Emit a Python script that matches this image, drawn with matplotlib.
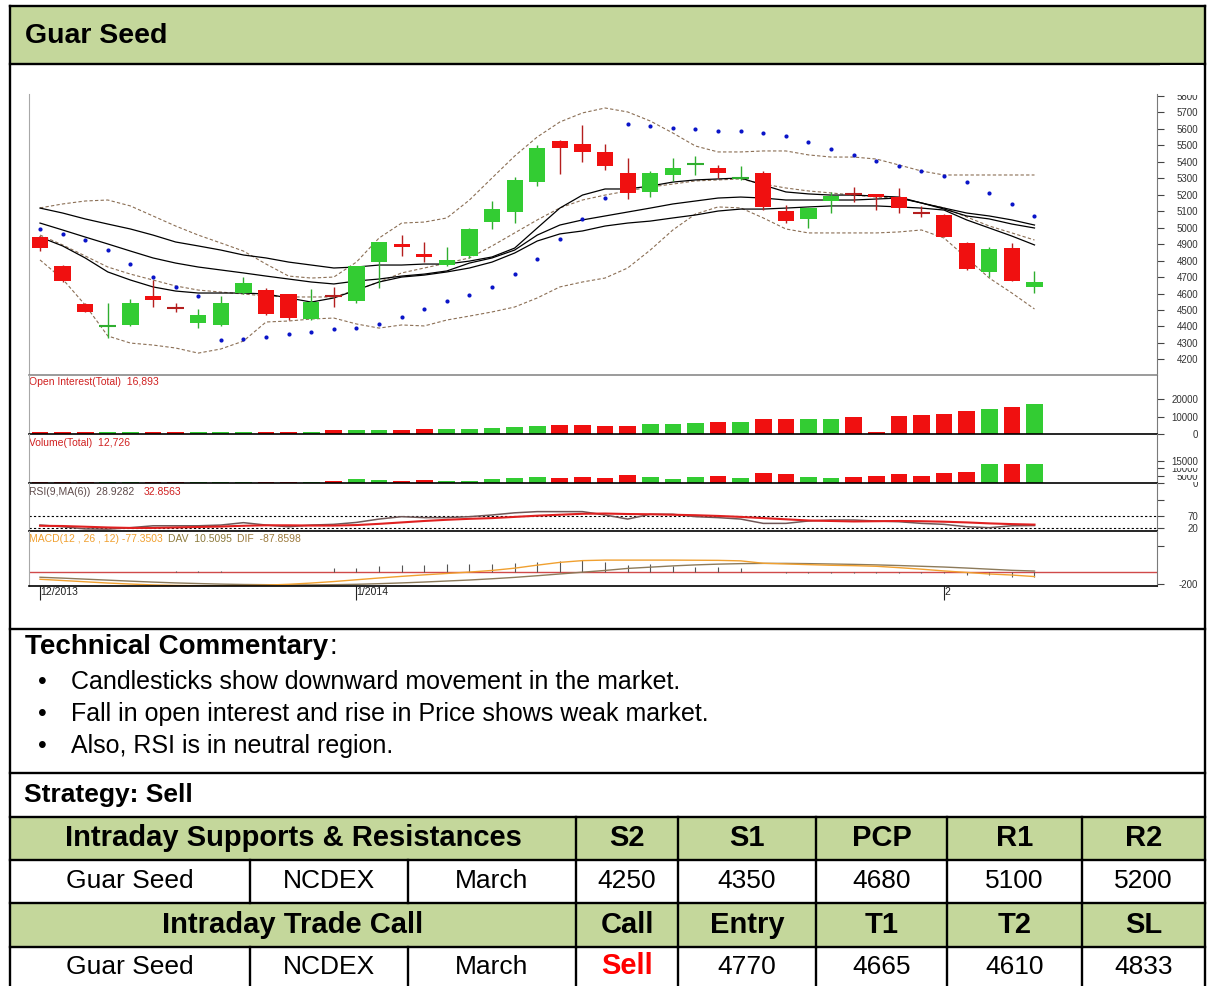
import matplotlib
matplotlib.use('Agg')
import matplotlib.pyplot as plt
from matplotlib.patches import Rectangle

plt.rcParams['font.family'] = ['Liberation Sans', 'DejaVu Sans']

W, H = 1208, 986

# ---------------- chart data (one value per trading day) ----------------
opens = [4943, 4769, 4534, 4397, 4409, 4585, 4516, 4422, 4409, 4605, 4621, 4597, 4443, 4587, 4556,
         4793, 4901, 4840, 4773, 4828, 5032, 5097, 5276, 5527, 5508, 5462, 5330, 5219, 5320, 5383,
         5361, 5302, 5334, 5101, 5053, 5162, 5207, 5205, 5184, 5093, 5077, 4905, 4731, 4876, 4638]
highs = [4950, 4775, 4540, 4542, 4567, 4682, 4544, 4506, 4585, 4702, 4632, 4600, 4626, 4642, 4770,
         4915, 4955, 4911, 4884, 4995, 5164, 5310, 5502, 5530, 5624, 5508, 5421, 5346, 5421, 5435,
         5381, 5375, 5346, 5138, 5127, 5217, 5249, 5205, 5239, 5132, 5080, 4911, 4884, 4909, 4737]
lows = [4858, 4672, 4485, 4330, 4405, 4518, 4486, 4390, 4405, 4600, 4470, 4439, 4440, 4520, 4544,
        4632, 4828, 4793, 4770, 4814, 4992, 5027, 5255, 5324, 5401, 5350, 5174, 5188, 5285, 5320,
        5304, 5290, 5107, 5027, 4996, 5091, 5158, 5107, 5087, 5067, 4941, 4745, 4702, 4675, 4601]
closes = [4876, 4678, 4489, 4409, 4542, 4561, 4512, 4469, 4542, 4666, 4475, 4449, 4550, 4583, 4767,
          4911, 4884, 4824, 4804, 4992, 5113, 5290, 5486, 5482, 5458, 5377, 5209, 5330, 5365, 5387,
          5330, 5306, 5127, 5040, 5120, 5192, 5203, 5188, 5121, 5089, 4945, 4749, 4870, 4678, 4670]

sar = [4992, 4962, 4925, 4864, 4779, 4700, 4640, 4585, 4317, 4324, 4336, 4354, 4366, 4384, 4390,
       4415, 4457, 4506, 4554, 4591, 4640, 4718, 4810, 4931, 5053, 5180, 5630, 5618, 5606, 5600,
       5587, 5587, 5575, 5557, 5520, 5478, 5442, 5405, 5375, 5344, 5314, 5277, 5211, 5144, 5071]

bb_upper = [5120, 5144, 5162, 5168, 5132, 5071, 5010, 4955, 4907, 4858, 4779, 4706, 4694, 4700, 4791,
            4937, 5028, 5034, 5059, 5168, 5302, 5435, 5551, 5642, 5697, 5727, 5703, 5648, 5575, 5496,
            5460, 5460, 5466, 5466, 5442, 5429, 5429, 5417, 5381, 5344, 5320, 5320, 5320, 5320, 5320]
bb_mid = [4955, 4895, 4828, 4761, 4718, 4682, 4646, 4621, 4609, 4597, 4585, 4579, 4579, 4579, 4621,
          4670, 4725, 4755, 4785, 4816, 4889, 4968, 5047, 5120, 5168, 5198, 5223, 5247, 5265, 5284,
          5290, 5296, 5265, 5241, 5223, 5211, 5198, 5186, 5180, 5150, 5120, 5065, 5010, 4968, 4925]
bb_lower = [4804, 4688, 4530, 4342, 4299, 4287, 4269, 4238, 4263, 4311, 4427, 4433, 4445, 4451, 4415,
            4390, 4409, 4403, 4439, 4463, 4488, 4518, 4573, 4640, 4670, 4694, 4755, 4864, 4986, 5083,
            5126, 5120, 5059, 4992, 4968, 4968, 4968, 4968, 4974, 4986, 4937, 4816, 4694, 4603, 4506]

ma_top = [5119, 5089, 5053, 5022, 4992, 4955, 4913, 4889, 4864, 4834, 4816, 4791, 4773, 4755, 4761,
          4773, 4773, 4779, 4779, 4797, 4822, 4876, 4998, 5119, 5198, 5235, 5235, 5253, 5277, 5290,
          5296, 5302, 5259, 5217, 5205, 5198, 5198, 5192, 5186, 5150, 5119, 5089, 5071, 5047, 5016]
ma_mid = [5028, 4986, 4943, 4901, 4858, 4816, 4785, 4761, 4743, 4725, 4706, 4688, 4670, 4658, 4676,
          4688, 4706, 4718, 4737, 4785, 4816, 4864, 4955, 5016, 5047, 5071, 5095, 5119, 5144, 5162,
          5180, 5186, 5180, 5168, 5168, 5168, 5168, 5174, 5180, 5150, 5113, 5071, 5053, 5022, 4998]
ma_bot = [4943, 4889, 4816, 4731, 4682, 4640, 4615, 4603, 4603, 4603, 4597, 4573, 4548, 4573, 4621,
          4670, 4700, 4712, 4731, 4755, 4791, 4846, 4919, 4962, 4980, 5010, 5028, 5040, 5059, 5077,
          5101, 5113, 5113, 5119, 5126, 5132, 5132, 5132, 5126, 5119, 5107, 5047, 4998, 4949, 4895]

open_interest = [1100, 1400, 1400, 1400, 1400, 1400, 1400, 1500, 1500, 1500, 1500, 1500, 1500, 2400, 2250,
                 2250, 2400, 3000, 2800, 3000, 3400, 3900, 4700, 5200, 5200, 4500, 4900, 5600, 5600, 6200,
                 7100, 7100, 8400, 8400, 8800, 8800, 9900, 1300, 10500, 10900, 11400, 13100, 14200, 15500, 16893]
volume = [1100, 1100, 1100, 1100, 1100, 1100, 1100, 1100, 1100, 1100, 1100, 1100, 1100, 1550, 2700,
          2000, 1550, 2200, 1550, 1550, 2700, 3350, 4000, 3350, 4000, 3350, 5400, 4000, 2700, 4000,
          4700, 3350, 7200, 6500, 4000, 3350, 4000, 4700, 6000, 4700, 7200, 7850, 12700, 12700, 12726]

rsi = [31, 24, 15, 14, 20, 28, 28, 28, 31, 41, 31, 24, 31, 34, 42,
       56, 66, 62, 62, 66, 73, 82, 87, 87, 87, 73, 56, 76, 76, 66,
       62, 56, 38, 38, 48, 52, 52, 48, 45, 38, 34, 24, 20, 28, 28.93]
rsi_ma = [28, 27, 24, 21, 19, 19, 21, 23, 25, 28, 30, 30, 29, 29, 31,
          36, 42, 48, 53, 57, 60, 65, 70, 74, 78, 79, 77, 76, 74, 72,
          69, 65, 60, 55, 50, 48, 46, 47, 48, 47, 45, 42, 38, 35, 32.86]

macd = [-120, -140, -160, -180, -196, -210, -218, -222, -224, -221, -213, -200, -180, -156, -128,
        -100, -74, -50, -28, -6, 20, 56, 104, 148, 176, 184, 184, 184, 184, 182,
        180, 172, 134, 123, 112, 102, 96, 86, 64, 40, 12, -12, -36, -53, -77.35]
macd_dav = [-88, -102, -118, -134, -150, -165, -178, -188, -197, -203, -206, -208, -210, -206, -200,
            -190, -178, -164, -148, -132, -112, -90, -64, -36, -8, 20, 52, 72, 92, 108,
            120, 128, 132, 132, 128, 122, 116, 108, 98, 86, 74, 58, 40, 22, 10.51]
macd_dif = [0, 0, 0, 0, 0, 0, 4, 6, 5, 0, 0, 0, 0, 54, 64,
            90, 106, 106, 118, 118, 128, 144, 160, 176, 186, 150, 106, 122, 90, 80,
            70, 54, 0, -16, -16, -20, -20, -24, -24, -24, -26, -54, -54, -80, -87.86]

date_ticks = [0, 14, 40]
date_labels = ['12/2013', '1/2014', '2']
price_ticks = [4200, 4300, 4400, 4500, 4600, 4700, 4800, 4900, 5000, 5100, 5200,
               5300, 5400, 5500, 5600, 5700, 5800]
oi_ticks = [0, 10000, 20000]
vol_ticks = [0, 5000, 10000, 15000]

# ---------------- report text ----------------
title = 'Guar Seed'
commentary = ['Candlesticks show downward movement in the market.',
              'Fall in open interest and rise in Price shows weak market.',
              'Also, RSI is in neutral region.']
strategy = 'Strategy: Sell'
contract = ['Guar Seed', 'NCDEX', 'March']
sr_header = ['S2', 'S1', 'PCP', 'R1', 'R2']
sr_values = ['4250', '4350', '4680', '5100', '5200']
call_header = ['Call', 'Entry', 'T1', 'T2', 'SL']
call_values = ['Sell', '4770', '4665', '4610', '4833']

GREEN_FILL = '#c4d79b'
UP = '#33cc33'
DOWN = '#f01010'
UP_DK = '#2fae2f'
DOWN_DK = '#b41e1e'

fig = plt.figure(figsize=(W / 100, H / 100), dpi=100)

# background layer in pixel coordinates (frame, title bar, commentary, table)
bg = fig.add_axes([0, 0, 1, 1])
bg.set_xlim(0, W)
bg.set_ylim(H, 0)
bg.axis('off')

LEFT, RIGHT = 10, 1205


def hline(y, x0=LEFT, x1=RIGHT, lw=1.7):
    bg.plot([x0, x1], [y, y], color='black', lw=lw, solid_capstyle='projecting')


def vline(x, y0, y1, lw=1.7):
    bg.plot([x, x], [y0, y1], color='black', lw=lw, solid_capstyle='projecting')


bg.add_patch(Rectangle((LEFT, 6), RIGHT - LEFT, 58, facecolor=GREEN_FILL, edgecolor='none'))
bg.text(25, 36, title, fontsize=20.5, fontweight='bold', va='center')

rows = [817, 860, 903, 947, 990]
cols = [LEFT, 250, 408, 576, 678, 816, 947, 1082, RIGHT]
bg.add_patch(Rectangle((LEFT, rows[0]), RIGHT - LEFT, rows[1] - rows[0], facecolor=GREEN_FILL, edgecolor='none'))
bg.add_patch(Rectangle((LEFT, rows[2]), RIGHT - LEFT, rows[3] - rows[2], facecolor=GREEN_FILL, edgecolor='none'))

# the page continues below the picture, so the last row has no bottom rule
for y in [6, 64, 629, 773, 817, 860, 903, 947]:
    hline(y)
vline(LEFT, 6, 990)
vline(RIGHT, 6, 990)
for k in range(4):
    start = 3 if k % 2 == 0 else 1
    for c in cols[start:8]:
        vline(c, rows[k], rows[k + 1])

renderer = fig.canvas.get_renderer()


def chain_text(x, y, parts, gap=4, **kw):
    for s, color, weight in parts:
        t = bg.text(x, y, s, color=color, fontweight=weight, va='center', ha='left', **kw)
        x = t.get_window_extent(renderer).x1 + gap


chain_text(25, 647, [('Technical Commentary', 'black', 'bold'), (':', 'black', 'normal')],
           gap=1, fontsize=20)
for k, line in enumerate(commentary):
    y = 682 + k * 32.2
    bg.text(42, y, '\u2022', fontsize=18, va='center', ha='center')
    bg.text(71, y, line, fontsize=18, va='center')
bg.text(24, 795, strategy, fontsize=19, fontweight='bold', va='center')

mid = lambda a, b: (a + b) / 2
bg.text(mid(cols[0], cols[3]), mid(rows[0], rows[1]), 'Intraday Supports & Resistances',
        fontsize=21, fontweight='bold', ha='center', va='center')
bg.text(mid(cols[0], cols[3]), mid(rows[2], rows[3]), 'Intraday Trade Call',
        fontsize=21, fontweight='bold', ha='center', va='center')
last_mid = mid(rows[3], 986)
for j in range(5):
    cx = mid(cols[3 + j], cols[4 + j])
    bg.text(cx, mid(rows[0], rows[1]), sr_header[j], fontsize=21, fontweight='bold', ha='center', va='center')
    bg.text(cx, mid(rows[1], rows[2]), sr_values[j], fontsize=19, ha='center', va='center')
    bg.text(cx, mid(rows[2], rows[3]), call_header[j], fontsize=21, fontweight='bold', ha='center', va='center')
    is_call = call_values[j] == 'Sell'
    bg.text(cx, last_mid, call_values[j], fontsize=21 if is_call else 19,
            fontweight='bold' if is_call else 'normal', color='#ff0000' if is_call else 'black',
            ha='center', va='center')
for j, name in enumerate(contract):
    cx = mid(cols[j], cols[j + 1])
    bg.text(cx, mid(rows[1], rows[2]), name, fontsize=19, ha='center', va='center')
    bg.text(cx, last_mid, name, fontsize=19, ha='center', va='center')

# ---------------- chart panels ----------------
X0, X1 = 29, 1157
XLIM = (-0.487, 49.42)
x = list(range(len(closes)))
bar_colors = [UP if c >= o else DOWN for o, c in zip(opens, closes)]


def panel(y0, y1, ylim, ticks, labels, bottom='black'):
    ax = fig.add_axes([X0 / W, 1 - y1 / H, (X1 - X0) / W, (y1 - y0) / H])
    ax.set_facecolor('none')
    ax.set_xlim(*XLIM)
    ax.set_ylim(*ylim)
    ax.spines['top'].set_visible(False)
    ax.spines['left'].set_color('#a8a8a8')
    ax.spines['right'].set_color('#7a7a7a')
    ax.spines['bottom'].set_color(bottom)
    ax.spines['bottom'].set_linewidth(1.2)
    ax.set_xticks([])
    ax.yaxis.tick_right()
    ax.set_yticks(ticks)
    ax.set_yticklabels(labels)
    ax.tick_params(axis='y', direction='out', length=5, width=0.8, color='#444',
                   labelsize=7, labelcolor='#333', pad=24.5)
    plt.setp(ax.get_yticklabels(), ha='right')
    return ax


# price
ax = panel(94, 375, (4105, 5812), price_ticks, [str(t) for t in price_ticks], bottom='#8a8a8a')
dash = (0, (3, 2))
for band in (bb_upper, bb_mid, bb_lower):
    ax.plot(x, band, color='#8b6f55', lw=0.8, ls=dash, zorder=1)
for ma in (ma_top, ma_mid, ma_bot):
    ax.plot(x, ma, color='black', lw=0.9, zorder=2)
for i, (o, h, l, c) in enumerate(zip(opens, highs, lows, closes)):
    up = c >= o
    wick = UP_DK if up else DOWN_DK
    ax.vlines(i, l, h, color=wick, lw=1, zorder=3)
    if abs(c - o) < 13:
        ax.hlines((o + c) / 2, i - 0.37, i + 0.37, color=wick, lw=1.5, zorder=4)
    else:
        ax.add_patch(Rectangle((i - 0.36, min(o, c)), 0.72, abs(c - o),
                               facecolor=UP if up else DOWN, edgecolor='none', zorder=4))
ax.scatter(x, sar, s=9, color='#0a14c8', zorder=5, linewidths=0)

# open interest
ax_oi = panel(375, 434.3, (0, 33400), oi_ticks, [str(t) for t in oi_ticks])
ax_oi.bar(x, open_interest, width=0.74, color=bar_colors)

# volume, its labels overlap each other as in the source terminal
ax_vol = panel(434.3, 483.3, (0, 32900), vol_ticks, [str(t) for t in vol_ticks])
ax_vol.bar(x, volume, width=0.74, color=bar_colors)
plt.setp(ax_vol.get_yticklabels(), bbox=dict(facecolor='white', edgecolor='none', pad=0.4))

# RSI
ax_rsi = panel(483.3, 531, (6.25, 205), [20, 70, 135], ['20', '70', ''])
for lvl in (20, 70):
    ax_rsi.axhline(lvl, color='black', lw=0.8, ls=(0, (2, 2)))
ax_rsi.plot(x, rsi, color='#6f5656', lw=1.1)
ax_rsi.plot(x, rsi_ma, color='#e02020', lw=1.5)

# MACD
ax_m = panel(531, 586, (-227, 646), [-200, 400], ['-200', ''])
ax_m.axhline(0, color='#d04a4a', lw=1)
ax_m.vlines(x, 0, macd_dif, color='#555555', lw=0.8)
ax_m.plot(x, macd_dav, color='#8c7a5a', lw=1)
ax_m.plot(x, macd, color='#f0a030', lw=1)
ax_m.set_xticks(date_ticks)
ax_m.set_xticklabels(date_labels)
ax_m.tick_params(axis='x', direction='out', length=10, width=0.8, color='#222',
                 labelsize=7.5, labelcolor='#222', pad=-9)
plt.setp(ax_m.get_xticklabels(), ha='left')

# panel captions
RED_TXT = '#d02020'
chain_text(29, 382, [('Open Interest(Total)  16,893', RED_TXT, 'normal')], fontsize=7.5)
chain_text(29, 443, [('Volume(Total)  12,726', RED_TXT, 'normal')], fontsize=7.5)
chain_text(29, 492, [('RSI(9,MA(6))  28.9282', '#5e4a4a', 'normal'), ('32.8563', RED_TXT, 'normal')],
           gap=9, fontsize=7.5)
chain_text(29, 539.5, [('MACD(12 , 26 , 12) -77.3503', '#f0a030', 'normal'),
                       ('DAV  10.5095', '#8c7a3c', 'normal'),
                       ('DIF  -87.8598', '#9c7a3c', 'normal')], gap=5, fontsize=7.5)

# the top of the chart capture cuts the 5800 label in half
fig.add_artist(Rectangle((1160 / W, 1 - 95 / H), 43 / W, 30 / H, transform=fig.transFigure,
                         facecolor='white', edgecolor='none', zorder=10))

fig.savefig('out.png', dpi=100)
